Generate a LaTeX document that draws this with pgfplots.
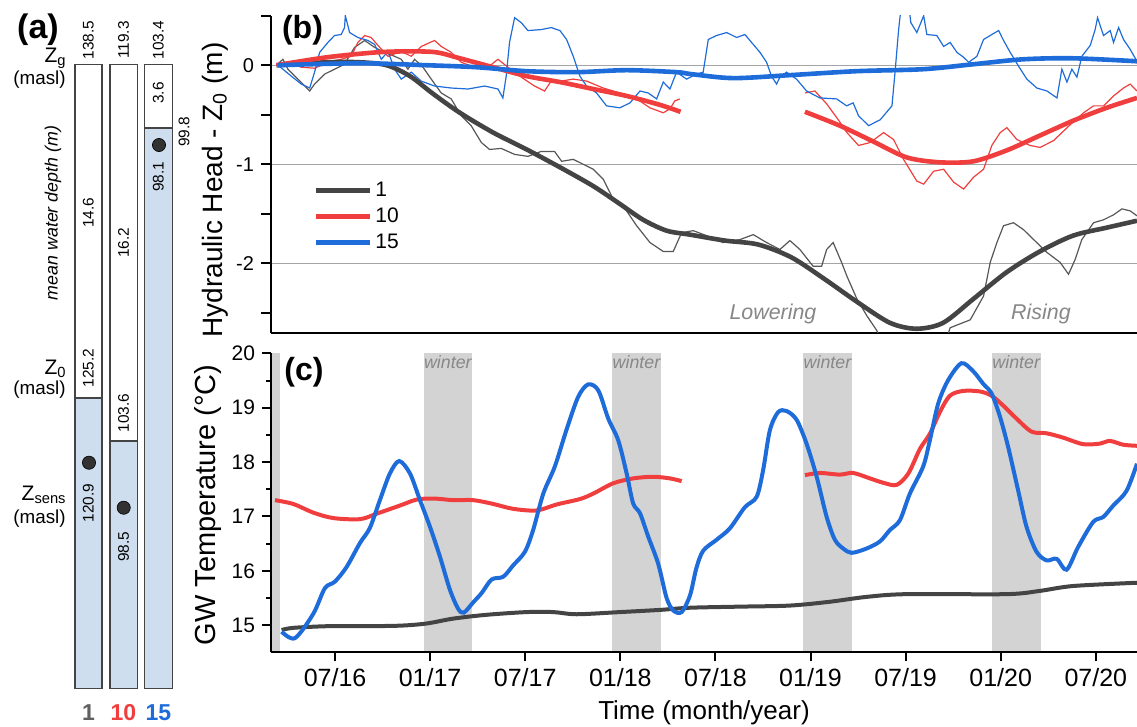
\documentclass[border=0pt]{standalone}
\usepackage{fontspec}
\setmainfont{Liberation Sans}
\usepackage{pgfplots}
\pgfplotsset{compat=1.18}
\definecolor{cgray}{RGB}{68,68,68}
\definecolor{cred}{RGB}{240,62,62}
\definecolor{cblue}{RGB}{30,108,218}
\definecolor{cwater}{RGB}{207,222,238}
\definecolor{cwinter}{RGB}{211,211,211}
\definecolor{cgrid}{RGB}{165,165,165}
\definecolor{clabel}{RGB}{135,135,135}
\definecolor{cdot}{RGB}{50,50,50}
\newcommand{\fs}[1]{\fontsize{#1}{#1}\selectfont}
\begin{document}
\begin{tikzpicture}
\path[use as bounding box] (0pt,0pt) rectangle (568.5pt,-363.5pt);

% ---------------- panel (a) ----------------
\begin{axis}[at={(0pt,0pt)}, anchor=north west, scale only axis,
  width=135.5pt, height=363.5pt, xmin=0, xmax=271, ymin=0, ymax=727,
  y dir=reverse, hide axis, clip=false]
\addplot[fill=cwater, draw=none] coordinates {(74.7,397.7) (102,397.7) (102,688.3) (74.7,688.3)} -- cycle;
\addplot[fill=cwater, draw=none] coordinates {(109.7,441) (137.3,441) (137.3,688.3) (109.7,688.3)} -- cycle;
\addplot[fill=cwater, draw=none] coordinates {(144.3,127.7) (172.3,127.7) (172.3,688.3) (144.3,688.3)} -- cycle;
\addplot[cgray, line width=0.8pt] coordinates {(74.7,397.7) (102,397.7)};
\addplot[cgray, line width=0.8pt] coordinates {(109.7,441) (137.3,441)};
\addplot[cgray, line width=0.8pt] coordinates {(144.3,127.7) (172.3,127.7)};
\addplot[cgray, line width=0.8pt] coordinates {(74.7,64.3) (102,64.3) (102,688.3) (74.7,688.3)} -- cycle;
\addplot[cgray, line width=0.8pt] coordinates {(109.7,64.3) (137.3,64.3) (137.3,688.3) (109.7,688.3)} -- cycle;
\addplot[cgray, line width=0.8pt] coordinates {(144.3,64.3) (172.3,64.3) (172.3,688.3) (144.3,688.3)} -- cycle;
\addplot[only marks, mark=*, mark size=3.3pt, mark options={fill=cdot, draw=black, line width=0.3pt}]
  coordinates {(89,462.7) (123.7,507.7) (159,145)};
% numbers
\node[rotate=90, font=\fs{7.7}] at (axis cs:88.4,40) {138.5};
\node[rotate=90, font=\fs{7.7}] at (axis cs:123.5,40) {119.3};
\node[rotate=90, font=\fs{7.7}] at (axis cs:158.3,40) {103.4};
\node[rotate=90, font=\fs{7.7}] at (axis cs:88.4,213) {14.6};
\node[rotate=90, font=\fs{7.7}] at (axis cs:123.5,243) {16.2};
\node[rotate=90, font=\fs{7.7}] at (axis cs:158.3,93) {3.6};
\node[rotate=90, font=\fs{7.7}] at (axis cs:184,132) {99.8};
\node[rotate=90, font=\fs{7.7}] at (axis cs:158.3,177) {98.1};
\node[rotate=90, font=\fs{7.7}] at (axis cs:88.4,368) {125.2};
\node[rotate=90, font=\fs{7.7}] at (axis cs:123.5,413) {103.6};
\node[rotate=90, font=\fs{7.7}] at (axis cs:88.4,503) {120.9};
\node[rotate=90, font=\fs{7.7}] at (axis cs:123.5,547) {98.5};
\node[rotate=90, font=\fs{8.9}\itshape] at (axis cs:53,213) {mean water depth (m)};
% left labels
\node[anchor=east, font=\fs{10.5}, inner sep=0pt] at (axis cs:67,58) {Z\textsubscript{g}};
\node[anchor=east, font=\fs{9.4}, inner sep=0pt] at (axis cs:66,80) {(masl)};
\node[anchor=east, font=\fs{10.5}, inner sep=0pt] at (axis cs:67,369) {Z\textsubscript{0}};
\node[anchor=east, font=\fs{9.4}, inner sep=0pt] at (axis cs:66,390) {(masl)};
\node[anchor=east, font=\fs{10.5}, inner sep=0pt] at (axis cs:67,495) {Z\textsubscript{sens}};
\node[anchor=east, font=\fs{9.4}, inner sep=0pt] at (axis cs:66,519) {(masl)};
% bottom labels
\node[font=\fs{11.5}\bfseries, text=cgray!85!white] at (axis cs:88.4,713) {1};
\node[font=\fs{11.5}\bfseries, text=cred] at (axis cs:123.5,713) {10};
\node[font=\fs{11.5}\bfseries, text=cblue] at (axis cs:158.3,713) {15};
\end{axis}

% ---------------- panel (b) ----------------
\begin{axis}[at={(135.5pt,-166.35pt)}, anchor=south west, scale only axis,
  width=433pt, height=158.5pt, xmin=1.96, xmax=56.6, ymin=-2.7, ymax=0.5,
  axis x line=bottom, axis y line=left, axis line style={-, line width=1pt},
  x axis line style={-}, y axis line style={-},
  xtick=\empty, ytick={-2,-1,0}, yticklabels={-2,-1,0},
  minor ytick={-2.5,-1.5,-0.5,0.5},
  tick align=outside, major tick length=5pt, minor tick length=5pt,
  tick style={black, line width=1pt},
  ymajorgrids, major grid style={cgrid, line width=0.6pt},
  yticklabel style={font=\fs{10}},
  legend style={at={(0.049,0.49)}, anchor=north west, draw=none, fill=none,
    inner sep=0pt, font=\fs{10.5}, nodes={inner xsep=1.5pt, inner ysep=2.1pt}},
  legend cell align=left,
  legend image code/.code={\draw[#1] (0pt,0pt) -- (27pt,0pt);}]
% raw series
\addplot[cgray!90!white, line width=0.6pt, forget plot] coordinates {
(2.31,0.0) (2.71,0.06) (3.03,-0.04) (3.66,-0.14) (4.4,-0.26) (4.71,-0.19) (5.34,-0.09) (5.97,-0.04)
(6.6,0.01) (7.23,0.18) (7.87,0.25) (8.5,0.18) (9.13,0.13) (9.76,0.09) (10.18,0.06) (10.6,-0.04)
(11.02,0.06) (11.55,-0.02) (12.07,-0.14) (12.7,-0.28) (13.33,-0.34) (13.96,-0.51) (14.59,-0.61)
(15.23,-0.78) (15.75,-0.85) (16.49,-0.84) (17.33,-0.90) (18.17,-0.92) (19.01,-0.87) (19.85,-0.87)
(20.3,-0.97) (21.03,-0.95) (22.29,-1.05) (22.92,-1.15) (23.55,-1.35) (24.18,-1.42) (25.03,-1.62)
(25.87,-1.79) (26.71,-1.88) (27.34,-1.88) (27.87,-1.69) (28.6,-1.67) (29.44,-1.72) (30.49,-1.79)
(31.55,-1.76) (32.39,-1.71) (33.23,-1.79) (34.07,-1.86) (34.7,-1.77) (35.33,-1.86) (36.17,-2.03)
(36.7,-2.03) (37.02,-1.86) (37.43,-1.79) (37.96,-1.99) (38.3,-2.13) (38.93,-2.36) (39.56,-2.53)
(40.19,-2.68) (40.6,-2.85) (44.4,-2.85) (44.81,-2.65) (46.08,-2.57) (46.92,-2.33) (47.34,-1.99)
(47.76,-1.79) (48.18,-1.62) (48.81,-1.59) (49.44,-1.66) (50.08,-1.76) (50.92,-1.89) (51.75,-1.99)
(52.28,-2.11) (52.7,-1.96) (53.12,-1.76) (53.86,-1.59) (54.49,-1.56) (55.12,-1.51) (55.65,-1.45)
(56.17,-1.47) (56.6,-1.52)};
\addplot[cred, line width=0.6pt, forget plot] coordinates {
(2.29,0.0) (3.03,0.03) (3.87,-0.02) (4.71,-0.03) (5.55,0.03) (6.39,0.06) (7.02,0.09) (7.44,0.23)
(7.87,0.30) (8.28,0.28) (8.71,0.20) (9.34,0.09) (10.18,0.14) (10.81,0.09) (11.44,0.19) (12.28,0.25)
(12.7,0.19) (13.33,0.13) (13.96,0.03) (14.81,-0.02) (15.65,-0.02) (16.28,0.06) (16.91,-0.02)
(17.75,-0.12) (18.59,-0.21) (19.22,-0.26) (19.64,-0.16) (20.27,-0.16) (21.03,-0.14) (21.87,-0.16)
(22.92,-0.23) (23.97,-0.28) (25.03,-0.34) (25.87,-0.43) (26.71,-0.48) (27.13,-0.44) (27.44,-0.36)
(27.76,-0.34)};
\addplot[cred, line width=0.6pt, forget plot] coordinates {
(35.65,-0.28) (36.28,-0.26) (37.02,-0.39) (37.75,-0.55) (38.3,-0.68) (39.03,-0.81) (39.77,-0.78)
(40.61,-0.68) (41.24,-0.75) (41.87,-0.95) (42.71,-1.17) (43.14,-1.20) (43.77,-1.07) (44.4,-1.05)
(45.03,-1.18) (45.66,-1.25) (46.29,-1.13) (46.92,-1.05) (47.44,-0.81) (47.97,-0.68) (48.39,-0.63)
(49.02,-0.75) (49.86,-0.81) (50.49,-0.83) (51.34,-0.76) (52.39,-0.60) (53.23,-0.48) (53.86,-0.41)
(54.49,-0.41) (55.12,-0.31) (55.75,-0.23) (56.17,-0.19) (56.6,-0.26)};
\addplot[cblue, line width=0.6pt, forget plot] coordinates {
(2.4,0.0) (2.71,-0.04) (3.24,-0.11) (3.87,-0.19) (4.4,-0.23) (4.71,-0.07) (5.03,0.13) (5.55,0.23)
(5.97,0.30) (6.39,0.31) (6.6,0.38) (6.65,0.50) (6.92,0.33) (7.44,0.28) (8.08,0.25) (8.5,0.21)
(8.92,0.06) (9.34,0.14) (9.76,-0.04) (10.18,-0.14) (10.81,-0.07) (11.44,-0.16) (12.28,-0.21)
(13.33,-0.23) (14.39,-0.24) (15.44,-0.21) (16.28,-0.24) (16.59,-0.33) (16.8,-0.11) (17.01,0.23)
(17.33,0.48) (17.75,0.43) (18.17,0.35) (19.01,0.36) (19.64,0.38) (20.19,0.35) (20.61,0.26)
(21.03,0.09) (21.45,-0.11) (21.87,-0.21) (22.5,-0.28) (23.13,-0.41) (23.97,-0.43) (24.61,-0.38)
(25.24,-0.26) (25.76,-0.28) (26.29,-0.34) (26.71,-0.17) (27.13,-0.24) (27.55,-0.07) (28.18,-0.14)
(28.81,-0.09) (29.23,-0.07) (29.55,0.26) (30.07,0.30) (30.71,0.33) (31.34,0.28) (31.86,0.31)
(32.39,0.21) (32.81,0.13) (33.23,0.03) (33.54,-0.11) (33.86,-0.19) (34.07,-0.12) (34.49,-0.07)
(35.12,-0.14) (35.75,-0.26) (36.59,-0.33) (37.65,-0.34) (38.28,-0.41) (38.69,-0.38) (39.03,-0.51)
(39.67,-0.61) (40.4,-0.55) (41.14,-0.41) (41.35,-0.04) (41.56,0.36) (41.7,0.56) (42.2,0.6)
(42.33,0.43) (42.71,0.33) (43.14,0.50) (43.34,0.31) (43.97,0.30) (44.4,0.19) (44.81,0.23)
(45.24,0.13) (45.66,0.08) (45.98,0.03) (46.5,0.09) (46.92,0.26) (47.44,0.31) (47.87,0.35)
(48.18,0.25) (48.6,0.13) (49.13,-0.01) (49.65,-0.14) (50.28,-0.23) (50.92,-0.26) (51.55,-0.33)
(51.86,-0.04) (52.18,-0.17) (52.49,-0.04) (52.81,-0.12) (53.12,0.09) (53.65,0.20) (53.96,0.36)
(54.11,0.48) (54.49,0.30) (54.91,0.35) (55.12,0.23) (55.44,0.38) (55.75,0.26) (56.17,0.16)
(56.6,0.04)};
% smoothed series
\addplot[cgray, line width=2.3pt, smooth] coordinates {
(2.31,0.0) (5.47,0.03) (7.57,0.03) (9.26,0.0) (10.73,-0.11) (12.2,-0.29) (13.88,-0.48) (15.98,-0.68)
(18.09,-0.85) (20.19,-1.03) (22.29,-1.22) (23.97,-1.40) (25.44,-1.56) (26.92,-1.67) (28.39,-1.71)
(30.6,-1.77) (32.7,-1.81) (34.8,-1.94) (36.9,-2.16) (38.95,-2.39) (41.01,-2.60) (42.69,-2.66)
(44.37,-2.60) (46.27,-2.36) (48.37,-2.09) (50.47,-1.88) (52.57,-1.72) (54.68,-1.64) (56.6,-1.57)};
\addlegendentry{1}
\addplot[cred, line width=2.3pt, smooth] coordinates {
(2.31,0.0) (5.47,0.08) (8.62,0.13) (10.73,0.14) (12.41,0.13) (13.88,0.07) (15.98,-0.02)
(18.09,-0.11) (20.19,-0.17) (22.29,-0.24) (24.4,-0.31) (26.5,-0.40) (27.8,-0.47)};
\addlegendentry{10}
\addplot[cred, line width=2.3pt, smooth, forget plot] coordinates {
(35.65,-0.47) (37.85,-0.61) (39.96,-0.77) (42.06,-0.93) (44.16,-0.98) (46.27,-0.97) (48.37,-0.86)
(50.47,-0.71) (52.57,-0.56) (54.68,-0.43) (56.6,-0.33)};
\addplot[cblue, line width=2.3pt, smooth] coordinates {
(2.4,0.0) (7.57,0.02) (11.78,0.0) (14.93,-0.02) (18.09,-0.06) (21.24,-0.07) (24.4,-0.05)
(27.55,-0.07) (28.5,-0.09) (31.12,-0.13) (34.7,-0.10) (38.91,-0.06) (43.11,-0.04) (46.27,0.01)
(49.42,0.06) (52.57,0.07) (56.6,0.04)};
\addlegendentry{15}
\node[font=\fs{10.7}\itshape, text=clabel] at (axis cs:33.63,-2.515) {Lowering};
\node[font=\fs{10.7}\itshape, text=clabel] at (axis cs:50.54,-2.515) {Rising};
\end{axis}

% ---------------- panel (c) ----------------
\begin{axis}[at={(135.5pt,-326.15pt)}, anchor=south west, scale only axis,
  width=433pt, height=149.45pt, xmin=1.96, xmax=56.6, ymin=14.5, ymax=20,
  axis x line=bottom, axis y line=left, axis line style={-, line width=1pt},
  x axis line style={-}, y axis line style={-}, axis on top,
  xtick={6,12,18,24,30,36,42,48,54},
  xticklabels={07/16,01/17,07/17,01/18,07/18,01/19,07/19,01/20,07/20},
  ytick={15,16,17,18,19,20}, yticklabels={15,16,17,18,19,20},
  minor ytick={15.5,16.5,17.5,18.5,19.5},
  tick align=outside, major tick length=4.5pt, minor tick length=2.5pt,
  tick style={black, line width=1pt},
  xticklabel style={font=\fs{12.5}}, yticklabel style={font=\fs{10.5}}]
\addplot[fill=cwinter, draw=none] coordinates {(1.96,14.5) (2.52,14.5) (2.52,20) (1.96,20)} -- cycle;
\addplot[fill=cwinter, draw=none] coordinates {(11.6,14.5) (14.65,14.5) (14.65,20) (11.6,20)} -- cycle;
\addplot[fill=cwinter, draw=none] coordinates {(23.5,14.5) (26.55,14.5) (26.55,20) (23.5,20)} -- cycle;
\addplot[fill=cwinter, draw=none] coordinates {(35.55,14.5) (38.6,14.5) (38.6,20) (35.55,20)} -- cycle;
\addplot[fill=cwinter, draw=none] coordinates {(47.45,14.5) (50.52,14.5) (50.52,20) (47.45,20)} -- cycle;
\addplot[cgray, line width=2pt, smooth] coordinates {
(2.63,14.91) (3.36,14.95) (5.47,14.98) (7.57,14.98) (10.09,14.99) (11.78,15.03) (13.46,15.12)
(15.56,15.19) (18.09,15.24) (19.77,15.24) (21.24,15.20) (23.97,15.24) (26.5,15.28) (28.39,15.32)
(31.5,15.34) (34.7,15.36) (37.22,15.43) (39.54,15.52) (42.06,15.57) (48.37,15.57) (50.47,15.63)
(52.57,15.72) (56.6,15.78)};
\addplot[cred, line width=2pt, smooth] coordinates {
(2.21,17.30) (3.36,17.23) (4.63,17.07) (5.89,16.97) (7.57,16.95) (8.62,17.05) (10.09,17.20)
(11.15,17.31) (12.2,17.33) (13.46,17.30) (14.72,17.30) (15.98,17.23) (17.24,17.14) (18.72,17.11)
(19.98,17.22) (21.45,17.32) (22.29,17.42) (23.55,17.61) (24.81,17.70) (26.08,17.73) (27.13,17.70)
(27.87,17.65)};
\addplot[cred, line width=2pt, smooth] coordinates {
(35.65,17.76) (36.59,17.80) (37.85,17.77) (38.69,17.80) (39.75,17.70) (40.59,17.62) (41.43,17.58)
(42.17,17.79) (42.9,18.24) (43.53,18.52) (44.16,18.92) (44.79,19.22) (45.63,19.31) (46.69,19.30)
(47.43,19.22) (48.16,19.04) (49.0,18.80) (49.95,18.56) (50.9,18.53) (51.94,18.45) (53.2,18.33)
(54.26,18.34) (54.89,18.39) (55.73,18.32) (56.6,18.30)};
\addplot[cblue, line width=2pt, smooth] coordinates {
(2.63,14.88) (3.47,14.76) (4.63,15.21) (5.36,15.68) (5.99,15.80) (6.73,16.07) (7.57,16.51)
(8.2,16.79) (8.83,17.30) (9.46,17.79) (10.05,18.02) (10.73,17.79) (11.36,17.30) (11.99,16.81)
(12.62,16.26) (13.25,15.65) (13.77,15.30) (14.13,15.23) (14.72,15.42) (15.25,15.59) (15.88,15.84)
(16.61,15.89) (17.24,16.10) (17.98,16.35) (18.5,16.75) (19.14,17.42) (19.87,17.92) (20.61,18.60)
(21.34,19.20) (21.97,19.43) (22.61,19.32) (23.24,18.80) (23.87,18.40) (24.4,17.79) (24.81,17.24)
(25.24,17.06) (25.76,16.63) (26.39,16.13) (26.92,15.50) (27.34,15.27) (27.87,15.24) (28.4,15.55)
(28.8,16.05) (29.23,16.37) (30.07,16.57) (30.91,16.78) (31.86,17.17) (32.6,17.36) (33.01,17.85)
(33.44,18.59) (33.96,18.92) (34.49,18.94) (35.12,18.78) (35.75,18.34) (36.39,17.73) (37.02,16.99)
(37.54,16.57) (38.06,16.41) (38.59,16.33) (39.54,16.41) (40.38,16.54) (41.01,16.75) (41.64,16.93)
(42.27,17.42) (43.11,17.92) (43.53,18.40) (44.06,19.08) (44.69,19.51) (45.53,19.82) (46.27,19.67)
(46.9,19.44) (47.43,19.26) (47.95,18.84) (48.47,18.28) (49.1,17.48) (49.63,16.81) (50.26,16.35)
(50.9,16.19) (51.53,16.22) (52.16,16.02) (52.89,16.44) (53.84,16.90) (54.47,16.99) (55.1,17.20)
(55.94,17.47) (56.6,17.97)};
\node[font=\fs{8.9}\itshape, text=clabel] at (axis cs:13.12,19.84) {winter};
\node[font=\fs{8.9}\itshape, text=clabel] at (axis cs:25.02,19.84) {winter};
\node[font=\fs{8.9}\itshape, text=clabel] at (axis cs:37.07,19.84) {winter};
\node[font=\fs{8.9}\itshape, text=clabel] at (axis cs:48.98,19.84) {winter};
\end{axis}

% ---------------- panel letters and axis titles ----------------
\node[font=\fs{17}\bfseries] at (19pt,-15pt) {(a)};
\node[font=\fs{16}\bfseries] at (151.25pt,-15pt) {(b)};
\node[font=\fs{16}\bfseries] at (152pt,-186pt) {(c)};
\node[rotate=90, font=\fs{14}] at (107.5pt,-95pt) {Hydraulic Head - Z\textsubscript{0} (m)};
\node[rotate=90, font=\fs{14.5}] at (104pt,-252.5pt) {GW Temperature (°C)};
\node[font=\fs{13}] at (352pt,-356.5pt) {Time (month/year)};
\end{tikzpicture}
\end{document}
